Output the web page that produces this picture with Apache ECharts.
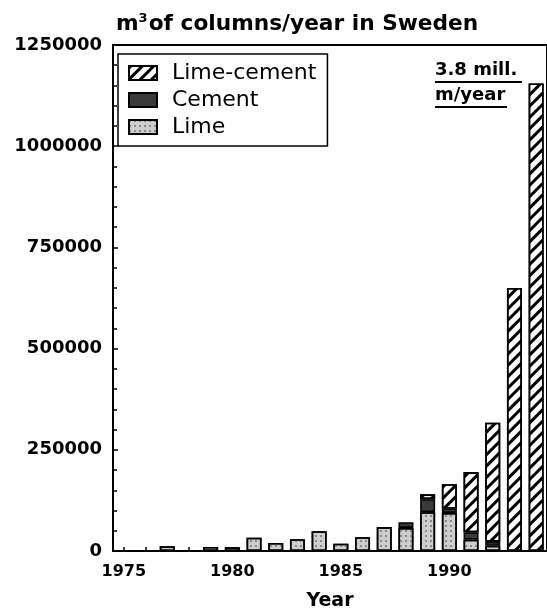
<!DOCTYPE html>
<html>
<head>
<meta charset="utf-8">
<script src="https://cdn.jsdelivr.net/npm/echarts@6/dist/echarts.min.js"></script>
<style>
html,body{margin:0;padding:0;background:#fff;}
#chart{width:547px;height:616px;}
</style>
</head>
<body>
<div id="chart"></div>
<script>
// ---- data ----
const years = ['1975','1976','1977','1978','1979','1980','1981','1982','1983','1984',
               '1985','1986','1987','1988','1989','1990','1991','1992','1993','1994'];
const lime = [0, 0, 12000, 0, 10000, 9000, 33000, 20000, 29000, 49000,
              18000, 34000, 59000, 57000, 96000, 94000, 28000, 13000, 0, 0];
const cement = [0, 0, 0, 0, 0, 0, 0, 0, 0, 0,
                0, 0, 0, 14000, 32000, 11000, 18000, 10000, 0, 0];
const limeCement = [0, 0, 0, 0, 0, 0, 0, 0, 0, 0,
                    0, 0, 0, 0, 12000, 60000, 149000, 294000, 650000, 1155000];
const yTicks = [0, 250000, 500000, 750000, 1000000, 1250000];
const seriesNames = ['Lime-cement', 'Cement', 'Lime'];

const FONT = 'DejaVu Sans';
const toBar = arr => arr.map(v => (v === 0 ? '-' : v));

const chart = echarts.init(document.getElementById('chart'), null, {renderer: 'canvas'});

const border = {borderColor: '#000', borderWidth: 1.6};

const option = {
  animation: false,
  backgroundColor: '#fff',
  title: {
    text: '{a|m}{s|3}{a|of columns/year in Sweden}',
    left: 116,
    top: 12,
    padding: 0,
    textStyle: {
      rich: {
        a: {fontFamily: FONT, fontWeight: 'bold', fontSize: 21.7, color: '#000'},
        s: {fontFamily: FONT, fontWeight: 'bold', fontSize: 13, color: '#000', padding: [0, 1, 11, 0]}
      }
    }
  },
  legend: {
    data: seriesNames,
    orient: 'vertical',
    left: 118,
    top: 54,
    padding: [8, 11, 8, 10],
    itemGap: 5,
    itemWidth: 28,
    itemHeight: 14,
    icon: 'rect',
    borderColor: '#000',
    borderWidth: 1.5,
    textStyle: {fontFamily: FONT, fontSize: 22, color: '#000', padding: [0, 0, 0, 10]}
  },
  grid: {
    left: 113,
    top: 45,
    bottom: 62,
    right: -3,
    show: true,
    borderColor: '#000',
    borderWidth: 2,
    containLabel: false
  },
  xAxis: {
    type: 'category',
    data: years,
    name: 'Year',
    nameLocation: 'middle',
    nameGap: 41,
    nameTextStyle: {fontFamily: FONT, fontWeight: 'bold', fontSize: 19, color: '#000'},
    axisLine: {lineStyle: {color: '#000', width: 2}},
    axisTick: {show: true, inside: true, alignWithLabel: true, interval: 0, length: 4, lineStyle: {color: '#000', width: 1.5}},
    axisLabel: {interval: 4, margin: 13, fontFamily: FONT, fontWeight: 'bold', fontSize: 16, color: '#000'},
    splitLine: {show: false}
  },
  yAxis: {
    type: 'value',
    min: yTicks[0],
    max: yTicks[yTicks.length - 1],
    interval: yTicks[1] - yTicks[0],
    axisLine: {show: true, lineStyle: {color: '#000', width: 2}},
    axisTick: {show: true, inside: true, length: 5, lineStyle: {color: '#000', width: 1.5}},
    minorTick: {show: true, splitNumber: 5, length: 4, lineStyle: {color: '#000', width: 1.5}},
    axisLabel: {margin: 11, fontFamily: FONT, fontWeight: 'bold', fontSize: 18, color: '#000',
                formatter: v => String(v)},
    splitLine: {show: false},
    minorSplitLine: {show: false}
  },
  series: [
    {
      name: 'Lime',
      type: 'bar',
      stack: 'total',
      barWidth: 15,
      data: toBar(lime),
      itemStyle: Object.assign({
        color: '#cdcdcd',
        decal: {symbol: 'rect', symbolSize: 1, color: '#8a8a8a', dashArrayX: [2, 3], dashArrayY: [1.5, 3], rotation: 0}
      }, border)
    },
    {
      name: 'Cement',
      type: 'bar',
      stack: 'total',
      barWidth: 15,
      data: toBar(cement),
      itemStyle: Object.assign({color: '#3a3a3a'}, border)
    },
    {
      name: 'Lime-cement',
      type: 'bar',
      stack: 'total',
      barWidth: 15,
      data: toBar(limeCement),
      itemStyle: Object.assign({
        color: '#fff',
        decal: {symbol: 'rect', symbolSize: 1, color: '#000', dashArrayX: [1, 0], dashArrayY: [2.2, 4.2], rotation: -Math.PI / 4}
      }, border)
    }
  ],
  graphic: [
    {type: 'text', left: 435, top: 61, style: {text: '3.8 mill.', font: 'bold 18px "DejaVu Sans"', fill: '#000'}},
    {type: 'line', shape: {x1: 435, y1: 82, x2: 522, y2: 82}, style: {stroke: '#000', lineWidth: 2}},
    {type: 'text', left: 435, top: 86, style: {text: 'm/year', font: 'bold 18px "DejaVu Sans"', fill: '#000'}},
    {type: 'line', shape: {x1: 435, y1: 107, x2: 507, y2: 107}, style: {stroke: '#000', lineWidth: 2}}
  ]
};

chart.setOption(option);
</script>
</body>
</html>
